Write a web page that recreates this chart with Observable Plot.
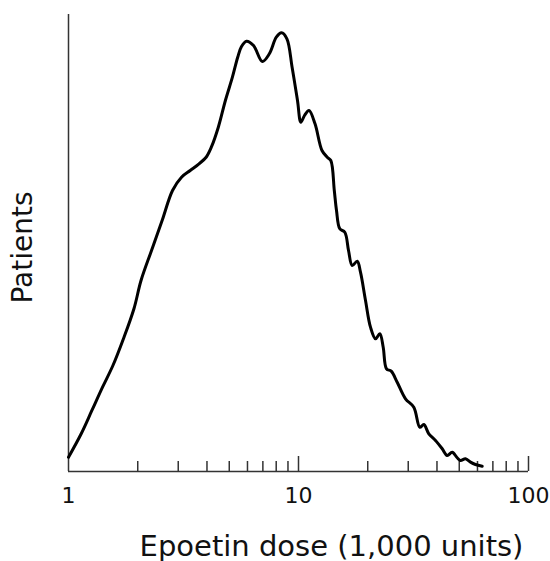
<!DOCTYPE html>
<html><head><meta charset="utf-8">
<script src="https://cdn.jsdelivr.net/npm/d3@7"></script>
<script src="https://cdn.jsdelivr.net/npm/@observablehq/plot@0.6"></script>
<style>body{margin:0;background:#fff}</style>
</head><body><div id="chart"></div>
<script>
// Epoetin dose (1,000 units), log scale
const dose = [1.0, 1.137, 1.264, 1.406, 1.560, 1.735, 1.927, 2.067, 2.296, 2.553,
  2.833, 3.100, 3.382, 3.694, 3.966, 4.178, 4.481, 4.810, 5.160, 5.441,
  5.652, 5.942, 6.374, 6.960, 7.467, 8.009, 8.437, 8.905, 9.380, 9.900,
  10.24, 10.62, 11.11, 11.80, 12.65, 13.34, 13.82, 14.31, 14.63, 15.12,
  15.90, 16.50, 17.12, 18.00, 18.60, 19.56, 20.56, 21.62, 22.57, 23.35,
  24.13, 25.30, 26.86, 29.19, 31.72, 33.69, 35.06, 36.86, 39.41, 42.15,
  44.31, 46.59, 48.98, 50.62, 53.22, 55.95, 58.82, 62.90];
// Patients (relative frequency, arbitrary units; axis top = 100)
const patients = [3.13, 8.32, 13.35, 18.45, 23.19, 29.10, 35.67, 41.79, 48.36, 54.92,
  61.49, 64.40, 65.86, 67.33, 68.77, 70.96, 75.34, 81.18, 86.28, 90.66,
  93.00, 94.16, 93.22, 89.72, 91.40, 95.03, 96.00, 94.68, 88.47, 81.18,
  76.43, 77.90, 78.99, 76.08, 70.24, 68.77, 68.05, 61.49, 57.11, 53.11,
  52.36, 48.36, 45.08, 46.02, 43.61, 37.42, 31.58, 29.04, 30.13, 27.20,
  22.47, 21.95, 19.54, 15.91, 14.07, 9.69, 10.28, 8.25, 6.78, 4.97,
  3.50, 4.22, 3.00, 2.41, 2.78, 2.04, 1.53, 1.16];
const labelTicks = [1, 10, 100];
const majorTicks = [10, 100];
const minorTicks = [2, 3, 4, 5, 6, 7, 8, 9, 20, 30, 40, 50, 60, 70, 80, 90];
const xLabel = "Epoetin dose (1,000 units)";
const yLabel = "Patients";

const data = dose.map((d, i) => ({dose: d, patients: patients[i]}));

const chart = Plot.plot({
  width: 550,
  height: 561,
  marginLeft: 68,
  marginRight: 22,
  marginTop: 14,
  marginBottom: 90,
  style: {fontFamily: "DejaVu Sans", background: "#fff", color: "#111"},
  x: {type: "log", domain: [1, 100], label: null},
  y: {domain: [0, 100], axis: null, label: null},
  marks: [
    Plot.axisX(minorTicks, {tickSize: 10, insetBottom: 10, tickFormat: () => "", label: null, stroke: "#333", strokeWidth: 1.5}),
    Plot.axisX(majorTicks, {tickSize: 15, insetBottom: 15, tickFormat: () => "", label: null, stroke: "#333", strokeWidth: 1.5}),
    Plot.axisX(labelTicks, {tickSize: 0, tickPadding: 16, fontSize: 22, tickFormat: d => String(d), label: null, fill: "#111"}),
    Plot.ruleX([1], {stroke: "#333", strokeWidth: 1.5}),
    Plot.ruleY([0], {stroke: "#333", strokeWidth: 1.5}),
    Plot.line(data, {x: "dose", y: "patients", curve: "catmull-rom", stroke: "#000", strokeWidth: 3}),
    Plot.text([xLabel], {frameAnchor: "bottom", textAnchor: "middle", dx: 33, dy: 84, fontSize: 29, fill: "#111"}),
    Plot.text([yLabel], {frameAnchor: "left", textAnchor: "middle", rotate: -90, dx: -45, dy: 4.5, fontSize: 28, fill: "#111"})
  ]
});
document.getElementById("chart").append(chart);
</script>
</body></html>
